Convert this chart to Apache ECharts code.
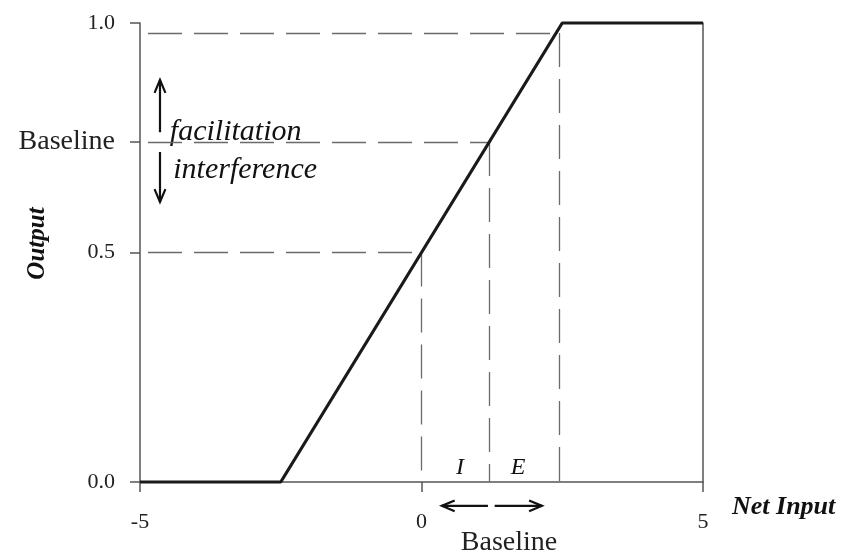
<!DOCTYPE html>
<html>
<head>
<meta charset="utf-8">
<script src="https://cdn.jsdelivr.net/npm/echarts@6/dist/echarts.min.js"></script>
<style>
  html, body { margin: 0; background: #fff; }
  #chart { width: 861px; height: 556px; }
</style>
</head>
<body>
<div id="chart"></div>
<script>
// ramp output function
const netInput = [-5, -2.5, 2.5, 5]
const output = [0, 0, 1, 1]
const yTicks = [0, 0.5, 0.741, 1]
const yTickLabels = ['0.0', '0.5', 'Baseline', '1.0']
// guide points (dashed drop lines)
const halfPoint = [0, 0.5]
const baselinePoint = [1.2, 0.741]
const topPoint = [2.44, 0.978]

const serif = "'Liberation Serif', 'Times New Roman', serif"
const axisColor = '#555'
const dashColor = '#6a6a6a'

function guide(p) {
  return [
    [{ coord: [-5, p[1]], lineStyle: { dashOffset: 38 } }, { coord: [p[0], p[1]] }],
    [{ coord: [p[0], p[1]] }, { coord: [p[0], 0] }]
  ]
}

const option = {
  animation: false,
  grid: { left: 140, right: 158, top: 23, bottom: 74, outerBoundsMode: 'none', containLabel: false },
  xAxis: {
    type: 'value',
    min: -5,
    max: 5,
    interval: 5,
    splitLine: { show: false },
    axisLine: { lineStyle: { color: axisColor, width: 1.5 } },
    axisTick: { length: 10, lineStyle: { color: axisColor, width: 1.5 } },
    axisLabel: { margin: 29, color: '#222', fontFamily: serif, fontSize: 22 },
    name: 'Net Input',
    nameLocation: 'end',
    nameGap: 29,
    nameMoveOverlap: false,
    nameTextStyle: {
      fontFamily: serif, fontSize: 26, fontStyle: 'italic', fontWeight: 'bold',
      color: '#111', verticalAlign: 'top', padding: [12, 0, 0, 0]
    }
  },
  yAxis: [
    {
      type: 'value',
      min: 0,
      max: 1,
      splitLine: { show: false },
      axisLine: { show: true, onZero: false, lineStyle: { color: axisColor, width: 1.5 } },
      axisTick: { show: true, length: 10, customValues: yTicks, lineStyle: { color: axisColor, width: 1.5 } },
      axisLabel: {
        margin: 25,
        customValues: yTicks,
        color: '#222',
        fontFamily: serif,
        fontSize: 22,
        formatter: v => {
          const t = yTickLabels[yTicks.indexOf(v)]
          return t === 'Baseline' ? '{b|' + t + '}' : t
        },
        rich: { b: { fontFamily: serif, fontSize: 28, color: '#222' } }
      },
      name: 'Output',
      nameLocation: 'middle',
      nameRotate: 90,
      nameGap: 90,
      nameMoveOverlap: false,
      nameTextStyle: {
        fontFamily: serif, fontSize: 25, fontStyle: 'italic', fontWeight: 'bold',
        color: '#111', padding: [0, 0, 0, 18]
      }
    },
    {
      type: 'value',
      min: 0,
      max: 1,
      position: 'right',
      splitLine: { show: false },
      axisLine: { show: true, onZero: false, lineStyle: { color: axisColor, width: 1.5 } },
      axisTick: { show: false },
      axisLabel: { show: false }
    }
  ],
  series: [
    {
      type: 'line',
      data: netInput.map((x, i) => [x, output[i]]),
      symbol: 'none',
      clip: false,
      z: 5,
      lineStyle: { color: '#1a1a1a', width: 3.2 },
      markLine: {
        silent: true,
        symbol: 'none',
        label: { show: false },
        lineStyle: { color: dashColor, width: 1.3, type: [34, 12] },
        data: [...guide(halfPoint), ...guide(baselinePoint), ...guide(topPoint)]
      }
    }
  ]
}

const chart = echarts.init(document.getElementById('chart'))
chart.setOption(option)

// annotation anchors, data coords
const notes = [
  { text: 'facilitation', at: [-4.47, 0.7625], align: 'left' },
  { text: 'interference', at: [-4.41, 0.68], align: 'left' },
  { text: 'I', at: [0.684, 0.0305], align: 'center' },
  { text: 'E', at: [1.714, 0.0305], align: 'center' }
]
const arrows = [
  [[-4.645, 0.762], [-4.645, 0.876]],
  [[-4.645, 0.719], [-4.645, 0.610]],
  [[1.18, -0.052], [0.36, -0.052]],
  [[1.3, -0.052], [2.14, -0.052]]
]

const px = p => chart.convertToPixel({ gridIndex: 0 }, p)
const graphic = []

notes.forEach(n => {
  const p = px(n.at)
  graphic.push({
    type: 'text',
    x: p[0],
    y: p[1],
    style: {
      text: n.text, fill: '#111', font: 'italic 30px ' + serif,
      align: n.align, verticalAlign: 'middle'
    }
  })
})
graphic[2].style.font = 'italic 24px ' + serif
graphic[3].style.font = 'italic 24px ' + serif

const bl = px([1.554, -0.133])
graphic.push({
  type: 'text', x: bl[0], y: bl[1],
  style: { text: 'Baseline', fill: '#222', font: '28px ' + serif, align: 'center', verticalAlign: 'middle' }
})

arrows.forEach(a => {
  const s = px(a[0])
  const e = px(a[1])
  const ang = Math.atan2(e[1] - s[1], e[0] - s[0])
  const h = 14
  const w = 0.4
  graphic.push({
    type: 'line',
    shape: { x1: s[0], y1: s[1], x2: e[0], y2: e[1] },
    style: { stroke: '#111', lineWidth: 2.2 }
  })
  graphic.push({
    type: 'polyline',
    shape: {
      points: [
        [e[0] - h * Math.cos(ang - w), e[1] - h * Math.sin(ang - w)],
        [e[0], e[1]],
        [e[0] - h * Math.cos(ang + w), e[1] - h * Math.sin(ang + w)]
      ]
    },
    style: { stroke: '#111', lineWidth: 2.2, fill: null }
  })
})

chart.setOption({ graphic: graphic })
</script>
</body>
</html>
